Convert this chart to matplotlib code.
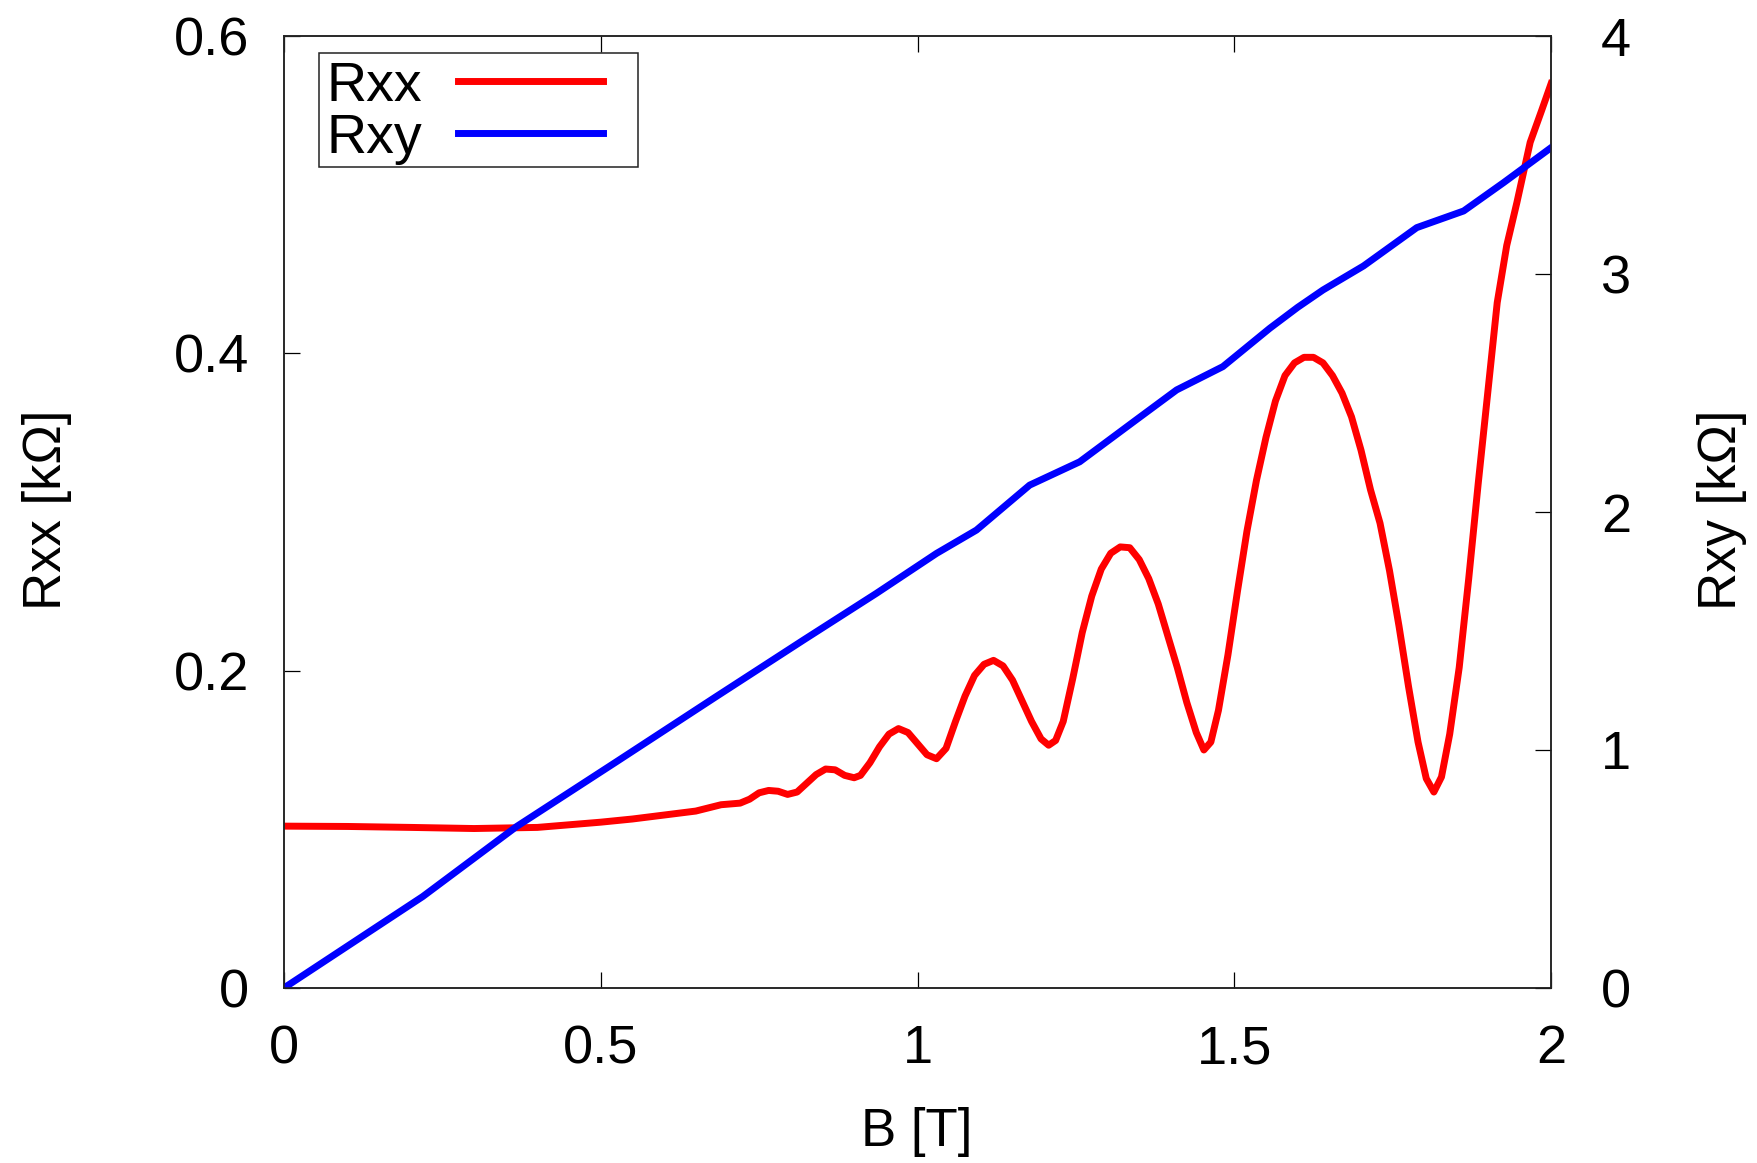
import matplotlib
matplotlib.use("Agg")
import matplotlib.pyplot as plt
from matplotlib.patches import Rectangle
from matplotlib.ticker import FormatStrFormatter

plt.rcParams['font.family'] = ['Liberation Sans', 'DejaVu Sans']

# Rxx vs B
b_xx = [0.00, 0.10, 0.20, 0.30, 0.40, 0.50, 0.55, 0.60, 0.65, 0.67, 0.69,
        0.72, 0.735, 0.75, 0.765, 0.78, 0.795, 0.81, 0.825, 0.84, 0.855,
        0.87, 0.885, 0.90, 0.91, 0.925, 0.94, 0.955, 0.97, 0.985, 1.00,
        1.015, 1.03, 1.045, 1.06, 1.075, 1.09, 1.105, 1.12, 1.135, 1.15,
        1.165, 1.18, 1.195, 1.207, 1.218, 1.23, 1.245, 1.26, 1.275, 1.29,
        1.305, 1.32, 1.335, 1.35, 1.365, 1.38, 1.395, 1.41, 1.425, 1.44,
        1.452, 1.463, 1.475, 1.49, 1.505, 1.52, 1.535, 1.55, 1.565, 1.58,
        1.595, 1.61, 1.625, 1.64, 1.655, 1.67, 1.685, 1.70, 1.715, 1.73,
        1.745, 1.76, 1.775, 1.79, 1.803, 1.815, 1.827, 1.84, 1.855, 1.87,
        1.885, 1.90, 1.915, 1.93, 1.946, 1.967, 1.985, 2.00]
rxx = [0.1020, 0.1018, 0.1012, 0.1005, 0.1012, 0.1045, 0.1065, 0.1090,
       0.1115, 0.1135, 0.1155, 0.1165, 0.119, 0.123, 0.1245, 0.124, 0.122,
       0.1235, 0.129, 0.1345, 0.138, 0.1375, 0.134, 0.1325, 0.134, 0.142,
       0.152, 0.160, 0.1635, 0.161, 0.154, 0.147, 0.1445, 0.151, 0.168,
       0.184, 0.197, 0.204, 0.2065, 0.203, 0.194, 0.181, 0.168, 0.157,
       0.153, 0.156, 0.168, 0.195, 0.224, 0.247, 0.264, 0.274, 0.278,
       0.2775, 0.270, 0.258, 0.242, 0.222, 0.202, 0.180, 0.161, 0.150,
       0.155, 0.175, 0.210, 0.250, 0.288, 0.320, 0.347, 0.370, 0.386,
       0.394, 0.3975, 0.3975, 0.394, 0.386, 0.375, 0.360, 0.339, 0.314,
       0.293, 0.263, 0.228, 0.190, 0.155, 0.132, 0.1235, 0.133, 0.160,
       0.202, 0.258, 0.318, 0.375, 0.432, 0.468, 0.495, 0.533, 0.553, 0.570]

# Rxy vs B
b_xy = [0.0, 0.219, 0.367, 0.525, 0.682, 0.82, 0.935, 1.03, 1.093, 1.177,
        1.256, 1.345, 1.409, 1.482, 1.556, 1.60, 1.64, 1.704, 1.788, 1.862,
        1.925, 2.0]
rxy = [0.0, 0.384, 0.678, 0.951, 1.224, 1.462, 1.658, 1.826, 1.924, 2.113,
       2.211, 2.387, 2.513, 2.611, 2.772, 2.86, 2.933, 3.034, 3.195, 3.265,
       3.384, 3.531]

fig = plt.figure(figsize=(17.57, 11.63), dpi=100)
ax = fig.add_axes([0.1616, 0.1505, 0.7212, 0.8185])
ax2 = ax.twinx()

l1, = ax.plot(b_xx, rxx, color='#ff0000', lw=5, solid_joinstyle='round',
              label='Rxx')
l2, = ax2.plot(b_xy, rxy, color='#0000ff', lw=5, solid_joinstyle='round',
               label='Rxy')

ax.set_xlim(0, 2)
ax.set_ylim(0, 0.6)
ax2.set_ylim(0, 4)

ax.set_xticks([0, 0.5, 1, 1.5, 2])
ax.set_yticks([0, 0.2, 0.4, 0.6])
ax2.set_yticks([0, 1, 2, 3, 4])
ax.xaxis.set_major_formatter(FormatStrFormatter('%g'))
ax.yaxis.set_major_formatter(FormatStrFormatter('%g'))
ax2.yaxis.set_major_formatter(FormatStrFormatter('%g'))

ax.tick_params(axis='x', direction='in', length=11.5, width=0.9, top=True,
               labelsize=39, pad=26)
ax.tick_params(axis='y', direction='in', length=11.5, width=0.9, right=False,
               labelsize=39, pad=25)
ax2.tick_params(axis='y', direction='in', length=11.5, width=0.9,
                labelsize=39, pad=36)
for a in (ax, ax2):
    for s in a.spines.values():
        s.set_linewidth(1.1)
        s.set_color('#222222')

fig.text(47 / 1757, 1 - 510 / 1163, 'Rxx [kΩ]', rotation=90, fontsize=38,
         ha='center', va='center')
fig.text(1722 / 1757, 1 - 510 / 1163, 'Rxy [kΩ]', rotation=90, fontsize=38,
         ha='center', va='center')
fig.text(917 / 1757, 1 - 1132 / 1163, 'B [T]', fontsize=38,
         ha='center', va='center')

# legend box drawn separately (gnuplot style: wider on the right)
box = Rectangle((319 / 1757, 1 - 167 / 1163), 319 / 1757, 114 / 1163,
                transform=fig.transFigure, facecolor='white',
                edgecolor='#222222', lw=1.1, zorder=4, clip_on=False)
ax2.add_patch(box)
leg = ax2.legend([l1, l2], ['Rxx', 'Rxy'], loc='upper left',
                 bbox_to_anchor=(321 / 1757, 1 - 55 / 1163),
                 bbox_transform=fig.transFigure, borderaxespad=0,
                 markerfirst=False, fontsize=40, handlelength=2.6,
                 handletextpad=0.65, labelspacing=0.0, borderpad=0.1,
                 frameon=False)
leg.set_zorder(10)

plt.savefig('out.png', dpi=100)
